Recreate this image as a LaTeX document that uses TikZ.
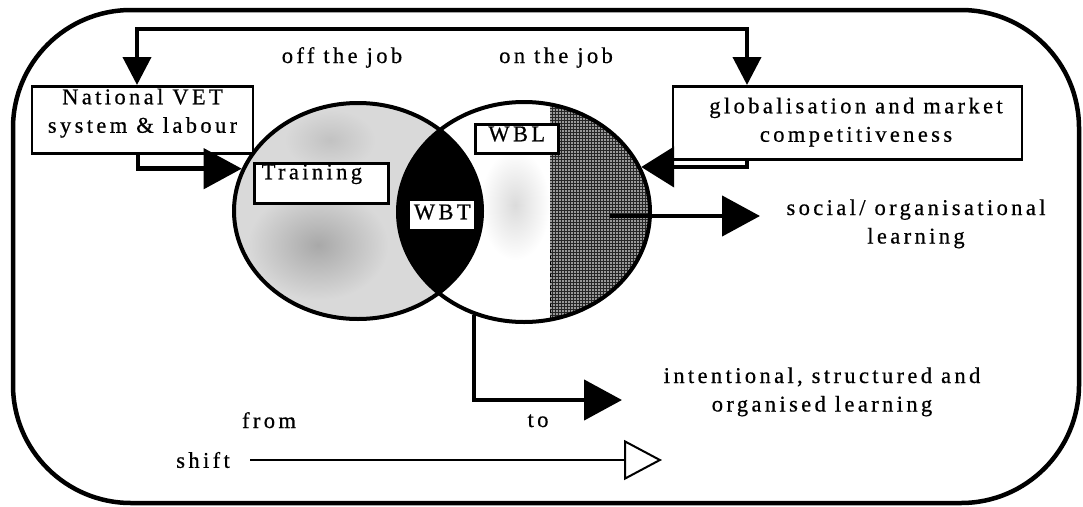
\documentclass[tikz,border=0pt]{standalone}
\usepackage{fontspec}
\setmainfont{Liberation Serif}[LetterSpace=15,FakeBold=0.6]
\usetikzlibrary{arrows.meta,shapes.geometric}
\tikzset{
  lbl/.style={font=\fontsize{22.5}{28.5}\selectfont, inner sep=0pt},
  boxn/.style={draw, line width=2.5pt, fill=white, inner sep=0pt, lbl},
  ell/.style={draw, line width=4pt, ellipse, inner sep=0pt},
  bigarrow/.style={line width=4.5pt, -{Triangle[length=38pt,width=40pt]}},
  globarrow/.style={line width=4.5pt, -{Triangle[length=33pt,width=40pt]}},
  dblarrow/.style={line width=4pt, {Triangle[length=28pt,width=28pt]}-{Triangle[length=28pt,width=28pt]}},
  openarrow/.style={line width=2pt, -{Triangle[open,length=38pt,width=40pt,fill=white]}}
}
\begin{document}
\begin{tikzpicture}[x=1pt,y=-1pt]
\useasboundingbox (0,0) rectangle (1083,506);
% frame
\draw[line width=4.5pt, rounded corners=118pt] (13,10) rectangle (1079,503);

% left ellipse fill (stippled grey)
\fill[black!15] (358,211) ellipse [x radius=124, y radius=108];
\begin{scope}
  \clip (358,211) ellipse [x radius=124, y radius=108];
  \shade[inner color=black!34, outer color=black!15] (318,245) ellipse [x radius=70, y radius=55];
  \shade[inner color=black!24, outer color=black!15] (330,140) ellipse [x radius=45, y radius=30];
\end{scope}
% right ellipse
\fill[white] (524,212) ellipse [x radius=126, y radius=110];
\shade[inner color=black!14, outer color=white] (515,205) ellipse [x radius=35, y radius=55];
\begin{scope}
  \clip (524,212) ellipse [x radius=126, y radius=110];
  \fill[black!40] (550,95) rectangle (655,330);
  \draw[black!85, line width=0.6pt, step=3pt] (550,95) grid (655,330);
\end{scope}
\draw[dashed, line width=1pt] (550,250) -- (550,318);
% lens
\begin{scope}
  \clip (358,211) ellipse [x radius=124, y radius=108];
  \fill[black] (524,212) ellipse [x radius=126, y radius=110];
\end{scope}
% outlines
\node[ell, minimum width=248pt, minimum height=216pt] (ellL) at (358,211) {};
\node[ell, minimum width=252pt, minimum height=220pt] (ellR) at (524,212) {};

% boxes
\node[boxn, anchor=north, minimum width=221pt, text height=18pt, text depth=49pt] (nat) at (142.5,85)
  {\begin{tabular}[t]{@{}c@{}}National VET\\system \& labour\end{tabular}};
\node[boxn, anchor=north, minimum width=349pt, text height=27pt, text depth=46pt] (glob) at (847.5,85)
  {\hspace*{17pt}\begin{tabular}[t]{@{}c@{}}globalisation and market\\competitiveness\end{tabular}};
\node[boxn, anchor=north west, text width=119pt, inner xsep=7.5pt, align=left, text height=16pt, text depth=24pt] (train) at (253,162) {Training};
\node[boxn, draw=none, anchor=north west, minimum width=64pt, text height=18pt, text depth=10pt] (wbt) at (409,200) {WBT};
\node[boxn, anchor=north west, minimum width=83pt, text height=17pt, text depth=12pt] (wbl) at (474,123) {WBL};

% labels
\node[lbl, anchor=base] (off) at (342,63) {off the job};
\node[lbl, anchor=base] (on) at (556,63) {on the job};
\node[lbl, anchor=base] (soc) at (916,215) {\begin{tabular}[t]{@{}c@{}}social/ organisational\\learning\end{tabular}};
\node[lbl, anchor=base] (intent) at (822,383) {\begin{tabular}[t]{@{}c@{}}intentional, structured and\\organised learning\end{tabular}};
\node[lbl, anchor=base] (to) at (538,427) {to};
\node[lbl, anchor=base] (from) at (269,428) {from};
\node[lbl, anchor=east] (shift) at (230,460) {shift};

% connectors
\coordinate (tl) at (137,29);
\coordinate (tr) at (747,29);
\draw[dblarrow] (nat.north -| tl) -- (tl) -- (tr) -- (glob.north -| tr);
\coordinate (a1) at (138,170);
\draw[bigarrow] (nat.south -| a1) |- (ellL.160);
\coordinate (a2) at (747,168);
\draw[globarrow] (glob.south -| a2) |- (ellR.21);
\coordinate (s0) at (610,216);
\coordinate (s1) at (760,216);
\draw[bigarrow] (s0) -- (s1);
\coordinate (b1) at (622,400);
\draw[bigarrow] (ellR.244) |- (b1);
\coordinate (e1) at (662,460);
\draw[openarrow, shorten <=20pt] (shift.east) -- (e1);
\end{tikzpicture}
\end{document}
